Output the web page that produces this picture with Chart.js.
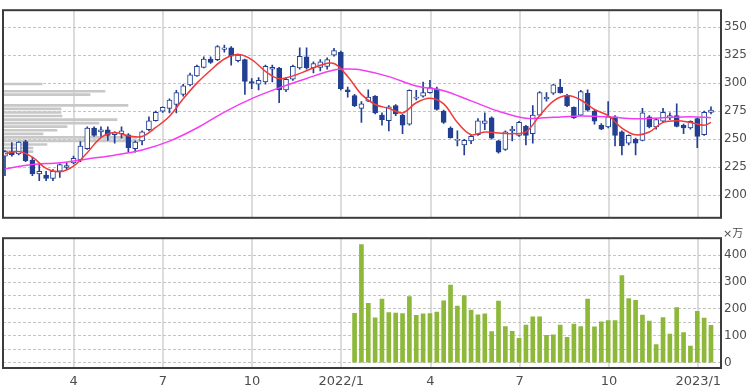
<!DOCTYPE html>
<html>
<head>
<meta charset="utf-8">
<script src="https://cdn.jsdelivr.net/npm/chart.js@4.4.0/dist/chart.umd.min.js"></script>
<style>
    html, body { margin: 0; padding: 0; background: #fff; }
    #wrap { position: relative; width: 750px; height: 391px; }
    #price { position: absolute; left: 0; top: 0; }
    #volume { position: absolute; left: 0; top: 228px; }
</style>
</head>
<body>
<div id="wrap">
    <canvas id="price" width="750" height="228"></canvas>
    <canvas id="volume" width="750" height="163"></canvas>
</div>
<script>
// weekly candles, one entry per week (x = week number)
const open = [235, 239, 237, 248, 231.5, 219, 218, 215, 221.5, 225, 229, 231.5, 241.5, 260, 256.5, 258.5, 254, 255, 254, 241.5,
    248.5, 258.5, 266.5, 275, 277.5, 281, 290, 298.5, 306.5, 314, 321.5, 321, 330, 331.5, 320, 321, 301.5, 299, 301, 312.5,
    313.5, 294, 303.5, 313.5, 323.5, 313.5, 314, 315, 325, 327.5, 294, 289, 277.5, 284, 288.5, 271.5, 266.5, 280, 271.5, 263.5,
    286.5, 288.5, 291.5, 295, 275, 260, 249, 245, 248.5, 254, 264, 269, 248.5, 241, 257.5, 253.5, 261.5, 255, 271.5, 286,
    291, 296.5, 289, 278.5, 271.5, 291, 275, 262.5, 261, 270, 256.5, 246.5, 250, 249, 270, 261, 266, 269, 271, 262.5,
    260, 268.5, 254, 274];
const high = [240, 247, 248, 249, 234, 227.5, 221.5, 223, 228, 229, 235, 248, 261, 261, 261, 261, 256.5, 261, 255, 248.5,
    257.5, 270, 275, 279, 286, 293.5, 299, 309, 316, 323.5, 323.5, 333.5, 334, 332.5, 326, 321.5, 304, 305, 316, 316,
    314, 305, 316, 331.5, 331.5, 319, 321, 322.5, 331, 328.5, 296.5, 290, 283.5, 294, 289, 273.5, 280, 281, 272.5, 294,
    293.5, 301, 302.5, 296.5, 276, 261, 257.5, 250, 253.5, 268.5, 273.5, 270, 249, 257.5, 261.5, 266, 262.5, 280, 292.5, 291.5,
    299, 303.5, 290, 279, 293.5, 294, 276, 264, 283.5, 271, 257.5, 254, 251, 277.5, 271, 268.5, 277.5, 273.5, 281.5, 263.5,
    266.5, 269, 275, 279];
const low = [217.5, 235, 236, 230, 217.5, 213, 213, 213, 216, 223, 228, 230, 241, 252.5, 252.5, 249, 246.5, 251, 238.5, 238.5,
    245, 257.5, 266, 274, 273.5, 273.5, 288.5, 297.5, 306, 313.5, 317.5, 320, 327.5, 316, 319, 290, 295, 294, 299, 301,
    282.5, 292.5, 302.5, 312.5, 312.5, 309, 311, 312.5, 324, 294, 287.5, 279, 265, 283.5, 272.5, 262.5, 257.5, 271, 255, 262.5,
    285, 287.5, 291, 276, 264, 251, 244, 236, 246, 253.5, 258.5, 250, 237.5, 240, 248.5, 252.5, 245, 246.5, 271, 284,
    290, 291, 279, 268.5, 271, 275, 263.5, 258.5, 260, 244, 236, 245, 236, 248.5, 260, 259, 265, 267.5, 261, 255,
    259, 242.5, 253.5, 272.5];
const close = [239, 236, 247.5, 231, 219, 221.5, 215, 221.5, 227.5, 226.5, 233, 244, 260, 253.5, 258.5, 253.5, 256, 257.5, 242.5, 247.5,
    256.5, 266.5, 274, 278.5, 285, 291.5, 297.5, 307.5, 315, 321.5, 318.5, 332.5, 331.5, 324, 325, 301.5, 300, 302.5, 315, 314,
    294, 303.5, 315, 324, 313.5, 317.5, 319, 321, 329, 295, 292.5, 280, 281.5, 287.5, 273.5, 267.5, 279, 272.5, 262.5, 293.5,
    287.5, 291.5, 296, 276.5, 265, 251.5, 250, 249, 252.5, 266.5, 266.5, 251, 238.5, 256.5, 259, 265, 253.5, 271.5, 291.5, 287.5,
    298.5, 291.5, 280, 269, 292.5, 276, 266, 259, 270, 253.5, 244, 253.5, 246.5, 273.5, 261, 267.5, 274, 271, 261.5, 260,
    266, 252.5, 274, 276];

// 13-week (red) and 26-week (magenta) moving averages
const ma13Weeks = [0, 2, 4, 6, 8, 10, 12, 14, 16, 18, 20, 22, 24, 26, 28, 30, 32, 34, 36, 38, 40, 42, 44, 46, 48, 50,
    52, 54, 56, 58, 60, 62, 64, 66, 68, 70, 72, 74, 76, 78, 80, 82, 84, 86, 88, 90, 92, 94, 96, 98, 100, 102, 103];
const ma13 = [237, 239, 234, 224, 221, 226, 238, 251.5, 256, 253, 252.5, 260.5, 270.5, 286, 300, 311.5, 321.5, 325.5, 321, 310.5,
    304, 306.5, 311, 316, 317.5, 306, 290, 281, 277.5, 273.5, 282.5, 286.5, 281.5, 265, 254, 256.5, 255.5, 255, 256.5, 271,
    284, 289, 285, 276.5, 271, 260, 254, 256.5, 265, 266.5, 265, 262.5, 265];
const ma26Weeks = [0, 4, 8, 12, 16, 20, 24, 28, 32, 36, 40, 44, 48, 50, 52, 56, 60, 64, 68, 72, 76, 80, 84, 88, 92, 96, 100, 103];
const ma26 = [223.7, 227.5, 229, 232.5, 235.8, 240.4, 248.3, 260, 274.2, 286.2, 295.8, 304.2, 311.7, 312.5, 311.7, 305.8,
    297.5, 293.3, 284.2, 275, 268.8, 269.6, 270.8, 270, 268.3, 269.2, 270, 269.2];

// volume by price (left side profile)
const profilePrices = [299.2, 292.8, 289.7, 280.2, 277, 273.8, 270.7, 267.5, 264.3, 261.2, 258, 254.8, 251.7, 248.5, 245.3, 242.2, 239];
const profileVolume = [39, 102, 87, 125, 58, 58, 59, 114, 96, 64, 54, 40, 134, 137, 44, 30, 30];

// weekly volume (x 10,000 shares), only the latest weeks are shown
const volume = [184, 439, 221, 167, 237, 187, 185, 183, 246, 176, 182, 183, 188, 230, 289, 211, 250, 196, 178, 182,
    116, 229, 135, 117, 91, 140, 171, 171, 102, 104, 140, 95, 144, 135, 237, 134, 152, 157, 157, 324,
    239, 232, 177, 155, 68, 168, 107, 205, 112, 62, 191, 166, 139];

// axis ticks
const quarterWeeks = [10, 23.02, 36.04, 49.06, 62.08, 75.1, 88.12, 101.14];
const quarterLabels = ['4', '7', '10', '2022/1', '4', '7', '10', '2023/1'];
const priceTicks = [200, 225, 250, 275, 300, 325, 350];
const volumeTicks = [0, 50, 100, 150, 200, 250, 300, 350, 400];

const candleBlue = '#223f92';
const labelColor = '#4d4d4d';
const font = 'DejaVu Sans';

const panelFrame = {
    id: 'panelFrame',
    afterDraw(chart) {
        const { ctx, chartArea: a } = chart;
        ctx.save();
        ctx.strokeStyle = '#3c3c3c';
        ctx.lineWidth = 2;
        ctx.strokeRect(a.left, a.top, a.right - a.left, a.bottom - a.top);
        ctx.restore();
    }
};

const unitLabel = {
    id: 'unitLabel',
    afterDraw(chart) {
        const { ctx, chartArea } = chart;
        ctx.save();
        ctx.fillStyle = labelColor;
        ctx.font = '11px "DejaVu Sans", "Noto Sans CJK JP"';
        ctx.textBaseline = 'middle';
        ctx.fillText('×万', chartArea.right + 2, chartArea.top - 4);
        ctx.restore();
    }
};

const weekAxis = (showLabels) => ({
    type: 'linear',
    offset: false,
    min: -0.29,
    max: 104.46,
    afterBuildTicks: s => { s.ticks = quarterWeeks.map(v => ({ value: v })); },
    afterFit: s => { s.height = showLabels ? 23 : 0; },
    grid: { color: '#dcdcdc', lineWidth: 2, drawTicks: false, offset: false },
    border: { display: false },
    ticks: {
        display: showLabels,
        autoSkip: false,
        maxRotation: 0,
        padding: 6,
        color: labelColor,
        font: { family: font, size: 13 },
        callback: (v, i) => quarterLabels[i]
    }
});

const weeks = open.map((v, i) => i);

new Chart(document.getElementById('price'), {
    type: 'bar',
    data: {
        datasets: [
            {
                type: 'line',
                data: ma13Weeks.map((w, k) => ({ x: w, y: ma13[k] })),
                borderColor: '#f23a3a',
                borderWidth: 1.5,
                pointRadius: 0,
                tension: 0.35,
                order: 1
            },
            {
                type: 'line',
                data: ma26Weeks.map((w, k) => ({ x: w, y: ma26[k] })),
                borderColor: '#f43cf4',
                borderWidth: 1.5,
                pointRadius: 0,
                tension: 0.35,
                order: 2
            },
            {
                data: weeks.map(i => ({ x: i, y: [open[i], close[i]] })),
                backgroundColor: ctx => close[ctx.dataIndex] >= open[ctx.dataIndex] ? '#ffffff' : candleBlue,
                borderColor: candleBlue,
                borderWidth: 1,
                borderSkipped: false,
                barThickness: 5,
                grouped: false,
                order: 3
            },
            {
                data: weeks.map(i => ({ x: i, y: [low[i], high[i]] })),
                backgroundColor: candleBlue,
                barThickness: 1,
                grouped: false,
                order: 4
            },
            {
                indexAxis: 'y',
                xAxisID: 'xp',
                yAxisID: 'y',
                data: profilePrices.map((p, k) => ({ x: profileVolume[k], y: p })),
                backgroundColor: '#c8c8c8',
                barThickness: 2,
                grouped: false,
                order: 6
            }
        ]
    },
    options: {
        responsive: false,
        animation: false,
        layout: { padding: { left: 3, top: 3, right: 0, bottom: 3 } },
        plugins: { legend: { display: false }, tooltip: { enabled: false } },
        scales: {
            x: weekAxis(false),
            xp: { axis: 'x', type: 'linear', display: false, offset: false, min: 0, max: 718 },
            y: {
                position: 'right',
                offset: false,
                min: 180,
                max: 365,
                afterBuildTicks: s => { s.ticks = priceTicks.map(v => ({ value: v })); },
                afterFit: s => { s.width = 29; },
                grid: { color: '#c4c4c4', drawTicks: false, offset: false },
                border: { display: false, dash: [3, 2] },
                ticks: { padding: 3, color: labelColor, font: { family: font, size: 12 } }
            }
        }
    },
    plugins: [panelFrame]
});

const volumeOffset = open.length - volume.length;

new Chart(document.getElementById('volume'), {
    type: 'bar',
    data: {
        datasets: [{
            data: volume.map((v, k) => ({ x: volumeOffset + k, y: v })),
            backgroundColor: '#8db83a',
            barThickness: 4,
            grouped: false
        }]
    },
    options: {
        responsive: false,
        animation: false,
        layout: { padding: { left: 3, top: 8, right: 0, bottom: 0 } },
        plugins: { legend: { display: false }, tooltip: { enabled: false } },
        scales: {
            x: weekAxis(true),
            y: {
                position: 'right',
                offset: false,
                min: -19.4,
                max: 463,
                afterBuildTicks: s => { s.ticks = volumeTicks.map(v => ({ value: v })); },
                afterFit: s => { s.width = 29; },
                grid: { color: '#c4c4c4', drawTicks: false, offset: false },
                border: { display: false, dash: [3, 2] },
                ticks: {
                    autoSkip: false,
                    padding: 3,
                    color: labelColor,
                    font: { family: font, size: 12 },
                    callback: v => v % 100 === 0 ? v : ''
                }
            }
        }
    },
    plugins: [panelFrame, unitLabel]
});
</script>
</body>
</html>
